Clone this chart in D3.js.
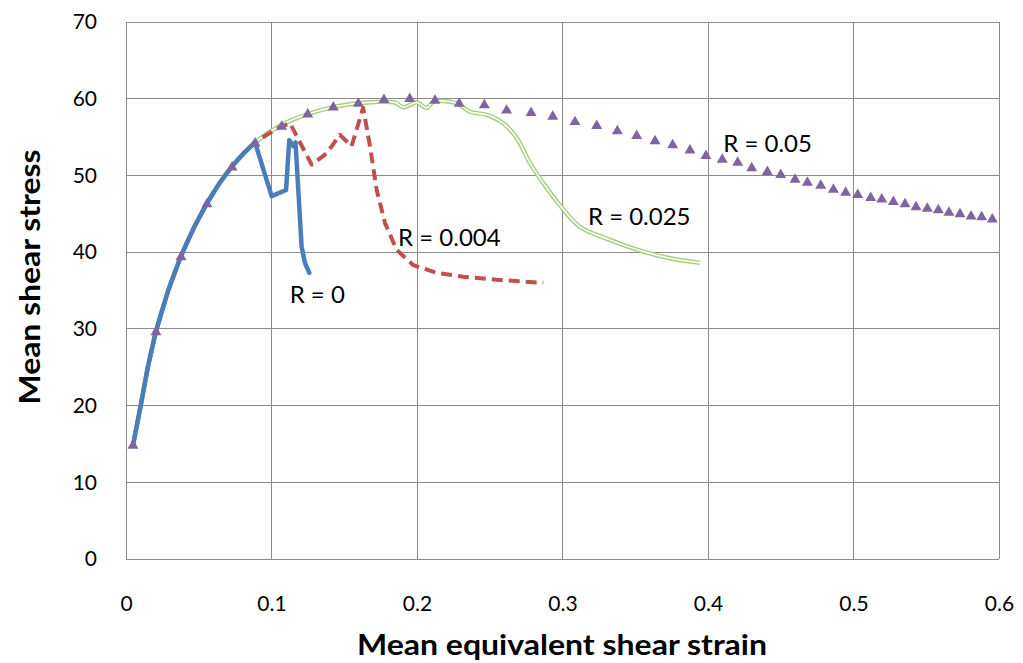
<!DOCTYPE html>
<html>
<head>
<meta charset="utf-8">
<script src="https://cdn.jsdelivr.net/npm/d3@7"></script>
<style>
  html, body { margin: 0; padding: 0; background: #fff; }
  svg { display: block; }
  text { font-family: Lato, "Open Sans", sans-serif; fill: #000; }
</style>
</head>
<body>
<svg id="chart" width="1023" height="663"></svg>
<script>
// Axis ticks
const xTicks = [0, 0.1, 0.2, 0.3, 0.4, 0.5, 0.6];
const yTicks = [0, 10, 20, 30, 40, 50, 60, 70];

// Shared loading branch (all cases follow it until failure starts)
const baseStrain = [0.005, 0.0101, 0.015, 0.0206, 0.029, 0.0378, 0.0467, 0.0557, 0.0643, 0.0729, 0.081, 0.0887];
const baseStress = [15.0, 20.0, 25.0, 29.7, 35.0, 39.5, 43.2, 46.4, 49.0, 51.2, 52.9, 54.3];

// R = 0 (solid blue), after the shared branch
const r0Strain = [0.1001, 0.110, 0.1122, 0.115, 0.1165, 0.1191, 0.1207, 0.123, 0.126];
const r0Stress = [47.3, 48.1, 54.6, 53.8, 54.3, 45.9, 40.7, 38.6, 37.3];

// R = 0.004 (dashed red), after the shared branch
const r004Strain = [0.096, 0.102, 0.107, 0.1127, 0.1276, 0.138, 0.147, 0.155, 0.163, 0.1677, 0.1723, 0.178, 0.186, 0.1975, 0.2135, 0.2318, 0.2548, 0.2868];
const r004Stress = [55.2, 55.9, 56.4, 56.8, 51.4, 52.9, 55.3, 53.8, 58.8, 53.8, 48.1, 43.8, 40.3, 38.3, 37.3, 36.8, 36.4, 36.0];

// R = 0.025 (double green line), after the shared branch
const r025Strain = [0.107, 0.1249, 0.1425, 0.1597, 0.175, 0.185, 0.1906, 0.1998, 0.2067, 0.2112, 0.2273, 0.2364, 0.2479, 0.2593, 0.2685, 0.2777, 0.2868, 0.2983, 0.312, 0.3326, 0.3533, 0.3739, 0.3945];
const r025Stress = [56.6, 58.0, 58.9, 59.4, 59.6, 59.5, 58.9, 59.5, 58.8, 59.6, 59.4, 58.3, 57.9, 56.8, 54.9, 51.6, 49.0, 46.1, 43.3, 41.6, 40.2, 39.2, 38.6];

// R = 0.05 (triangle markers)
const r05Strain = [0.0048, 0.0206, 0.0378, 0.0557, 0.0729, 0.0887, 0.107, 0.1249, 0.1425, 0.1597, 0.1773, 0.195, 0.2124, 0.229, 0.2463, 0.2616, 0.2784, 0.2933, 0.3086, 0.3235, 0.3377, 0.351, 0.3636, 0.3757, 0.3876, 0.3986, 0.4098, 0.4204, 0.430, 0.4408, 0.450, 0.4598, 0.4683, 0.4775, 0.4862, 0.4946, 0.5029, 0.5118, 0.5194, 0.5274, 0.5354, 0.543, 0.5507, 0.5583, 0.5656, 0.5732, 0.5808, 0.5881, 0.5954];
const r05Stress = [14.9, 29.7, 39.5, 46.4, 51.2, 54.3, 56.5, 58.1, 59.0, 59.5, 60.0, 60.1, 59.9, 59.5, 59.3, 58.6, 58.3, 57.8, 57.1, 56.6, 55.9, 55.3, 54.6, 54.1, 53.4, 52.7, 52.2, 51.8, 51.1, 50.6, 50.2, 49.6, 49.2, 48.8, 48.3, 47.9, 47.6, 47.2, 47.0, 46.7, 46.4, 46.0, 45.8, 45.6, 45.3, 45.1, 44.8, 44.7, 44.4];

// Curve labels
const labelText = ["R = 0", "R = 0.004", "R = 0.025", "R = 0.05"];
const labelStrain = [0.1125, 0.187, 0.3175, 0.4105];
const labelStress = [33.4, 40.8, 43.6, 53.1];

const svg = d3.select("#chart");
const margin = { left: 126, right: 1023 - 999, top: 22, bottom: 663 - 559 };
const W = 1023, H = 663;

const x = d3.scaleLinear().domain([0, 0.6]).range([margin.left, W - margin.right]);
const y = d3.scaleLinear().domain([0, 70]).range([H - margin.bottom, margin.top]);

const zip = (xs, ys) => xs.map((v, i) => [v, ys[i]]);
const withBase = (xs, ys) => zip(baseStrain.concat(xs), baseStress.concat(ys));

// Gridlines
const grid = svg.append("g");
grid.selectAll("line.h").data(yTicks).join("line")
  .attr("x1", x(0)).attr("x2", x(0.6))
  .attr("y1", d => y(d)).attr("y2", d => y(d))
  .attr("stroke", "#8c8c8c").attr("stroke-width", 1).attr("shape-rendering", "crispEdges");
grid.selectAll("line.v").data(xTicks).join("line")
  .attr("y1", y(0)).attr("y2", y(70))
  .attr("x1", d => x(d)).attr("x2", d => x(d))
  .attr("stroke", "#8c8c8c").attr("stroke-width", 1).attr("shape-rendering", "crispEdges");

// Axes (labels only; lines drawn by the grid)
const xAxis = svg.append("g").attr("transform", `translate(0,${y(0)})`)
  .call(d3.axisBottom(x).tickValues(xTicks).tickSize(0).tickPadding(37).tickFormat(d => d === 0 ? "0" : d3.format(".1f")(d)));
xAxis.select(".domain").remove();
xAxis.selectAll("text").attr("font-size", 21).style("font-family", "Lato, 'Open Sans', sans-serif");

const yAxis = svg.append("g").attr("transform", `translate(${x(0)},0)`)
  .call(d3.axisLeft(y).tickValues(yTicks).tickSize(0).tickPadding(29).tickFormat(d3.format("d")));
yAxis.select(".domain").remove();
yAxis.selectAll("text").attr("font-size", 21).style("font-family", "Lato, 'Open Sans', sans-serif");

// Axis titles
svg.append("text").attr("x", 562).attr("y", 655)
  .attr("text-anchor", "middle").attr("font-size", 28).attr("font-weight", "bold")
  .attr("textLength", 410).attr("lengthAdjust", "spacingAndGlyphs")
  .text("Mean equivalent shear strain");
svg.append("text").attr("transform", `translate(40,277) rotate(-90)`)
  .attr("text-anchor", "middle").attr("font-size", 28).attr("font-weight", "bold")
  .attr("textLength", 255).attr("lengthAdjust", "spacingAndGlyphs")
  .text("Mean shear stress");

const sharp = d3.line().x(d => x(d[0])).y(d => y(d[1]));
const smooth = d3.line().x(d => x(d[0])).y(d => y(d[1])).curve(d3.curveCatmullRom.alpha(0.5));

// R = 0.025: double line (green outline with white core)
svg.append("path").datum(withBase(r025Strain, r025Stress)).attr("d", smooth)
  .attr("fill", "none").attr("stroke", "#a6cf7f").attr("stroke-width", 4.5).attr("stroke-linejoin", "round");
svg.append("path").datum(withBase(r025Strain, r025Stress)).attr("d", smooth)
  .attr("fill", "none").attr("stroke", "#ffffff").attr("stroke-width", 1.6).attr("stroke-linejoin", "round");

// R = 0.004: dashed red
svg.append("path").datum(withBase(r004Strain, r004Stress)).attr("d", sharp)
  .attr("fill", "none").attr("stroke", "#c0504d").attr("stroke-width", 4)
  .attr("stroke-dasharray", "11,6").attr("stroke-linejoin", "round");

// R = 0: solid blue
svg.append("path").datum(withBase(r0Strain, r0Stress)).attr("d", sharp)
  .attr("fill", "none").attr("stroke", "#4a7ebb").attr("stroke-width", 4.5)
  .attr("stroke-linejoin", "round").attr("stroke-linecap", "round");

// R = 0.05: triangle markers
const tri = d3.symbol().type(d3.symbolTriangle).size(52);
svg.append("g").selectAll("path").data(zip(r05Strain, r05Stress)).join("path")
  .attr("transform", d => `translate(${x(d[0])},${y(d[1]) + 1})`)
  .attr("d", tri).attr("fill", "#8064a2");

// Curve labels
svg.append("g").selectAll("text").data(labelText).join("text")
  .attr("x", (d, i) => x(labelStrain[i])).attr("y", (d, i) => y(labelStress[i]))
  .attr("font-size", 24).text(d => d);
</script>
</body>
</html>
